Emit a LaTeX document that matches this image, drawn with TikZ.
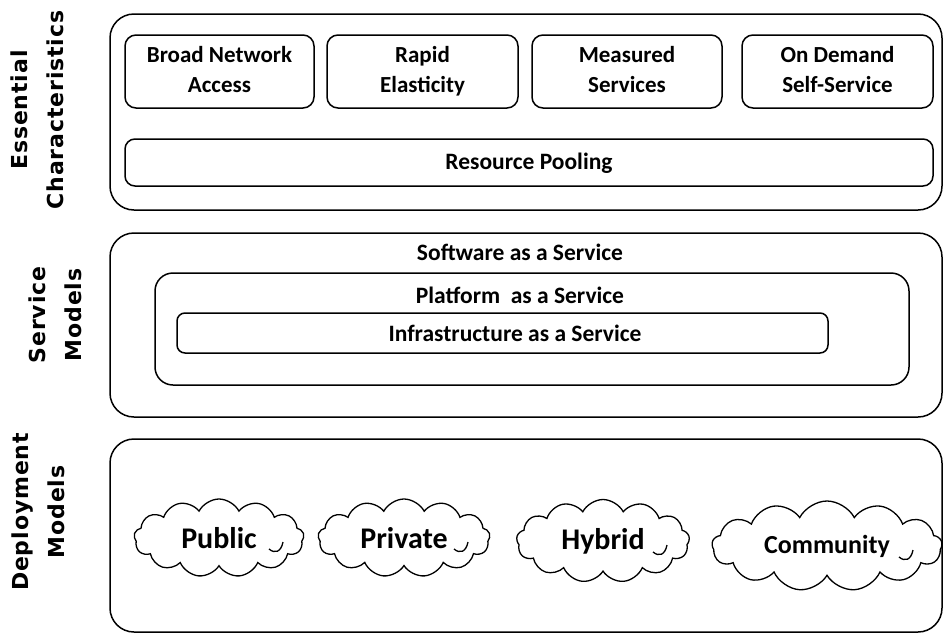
\documentclass[tikz,border=0pt]{standalone}
\usepackage{fontspec}
\setmainfont{Carlito}
\newfontfamily\labfont[LetterSpace=4]{DejaVu Sans}
\usetikzlibrary{shapes.symbols}
\newcommand{\ph}{\vphantom{Ay}}
\begin{document}
\begin{tikzpicture}[x=1pt,y=-1pt,
  lw/.style={line width=1.5pt},
  outerbox/.style={draw, lw, rounded corners=24pt, inner sep=0pt, minimum width=832pt},
  cbox/.style={draw, lw, rounded corners=11pt, inner sep=0pt, minimum width=190pt, minimum height=73pt, align=center, font=\fontsize{23}{30}\selectfont\bfseries},
  boxtext/.style={font=\fontsize{23.5}{26}\selectfont\bfseries, inner sep=0pt},
  sidelabel/.style={rotate=90, align=center, font=\labfont\bfseries\fontsize{22}{36}\selectfont},
  cloudst/.style={draw, line width=1.3pt, cloud, cloud puffs=13, cloud puff arc=125, cloud ignores aspect, inner sep=0pt, font=\fontsize{30}{34}\selectfont\bfseries},
  hook/.style={line width=1.3pt}
]
\useasboundingbox (0,0) rectangle (944,635);

% side labels
\node[sidelabel] (lab1) at (37,110) {Essential\\Characteristics};
\node[sidelabel] (lab2) at (55,315) {Service\\Models};
\node[sidelabel] (lab3) at (38,512) {Deployment\\Models};

% essential characteristics
\node[outerbox, minimum height=196pt] (ess) at (526,112) {};
\node[cbox, minimum width=189pt] (bna) at (219.5,71.5) {Broad Network\ph\\Access\ph};
\node[cbox, minimum width=191pt] (re) at (422.5,71.5) {Rapid\ph\\Elasticity\ph};
\node[cbox] (ms) at (627,71.5) {Measured\ph\\Services\ph};
\node[cbox, minimum width=191pt] (ods) at (837.5,71.5) {On Demand\ph\\Self-Service\ph};
\node[draw, lw, rounded corners=10pt, inner sep=0pt, minimum width=808pt, minimum height=47pt] (rp) at (529,162.5) {};
\node[boxtext] (rpt) at (529,163) {Resource Pooling};

% service models
\node[outerbox, minimum height=184pt] (svc) at (526,325) {};
\node[boxtext] (saas) at (520,252) {Software as a Service};
\node[draw, lw, rounded corners=18pt, inner sep=0pt, minimum width=754pt, minimum height=112pt] (paasb) at (532,329) {};
\node[boxtext] (paas) at (520,295) {Platform\ \ as a Service};
\node[draw, lw, rounded corners=8pt, inner sep=0pt, minimum width=651pt, minimum height=40pt] (iaasb) at (502.5,333) {};
\node[boxtext] (iaas) at (515,333) {Infrastructure as a Service};

% deployment models
\node[outerbox, minimum height=193pt] (dep) at (526,535.5) {};
\node[cloudst, minimum width=170pt, minimum height=78pt] (pub) at (219,538) {Public};
\node[cloudst, minimum width=172pt, minimum height=78pt] (priv) at (404,538) {Private};
\node[cloudst, minimum width=173pt, minimum height=83pt] (hyb) at (603,541) {Hybrid};
\node[cloudst, minimum width=230pt, minimum height=90pt, font=\fontsize{26}{30}\selectfont\bfseries] (com) at (827,546) {Community};

% small inner hooks of the clouds
\foreach \c/\dx in {pub/50, priv/50, hyb/50, com/72}{
  \draw[hook] ([shift={(\dx,11)}]\c.center) .. controls ([shift={(\dx+6,16)}]\c.center) and ([shift={(\dx+12,14)}]\c.center) .. ([shift={(\dx+14,4)}]\c.center);
}
\end{tikzpicture}
\end{document}
